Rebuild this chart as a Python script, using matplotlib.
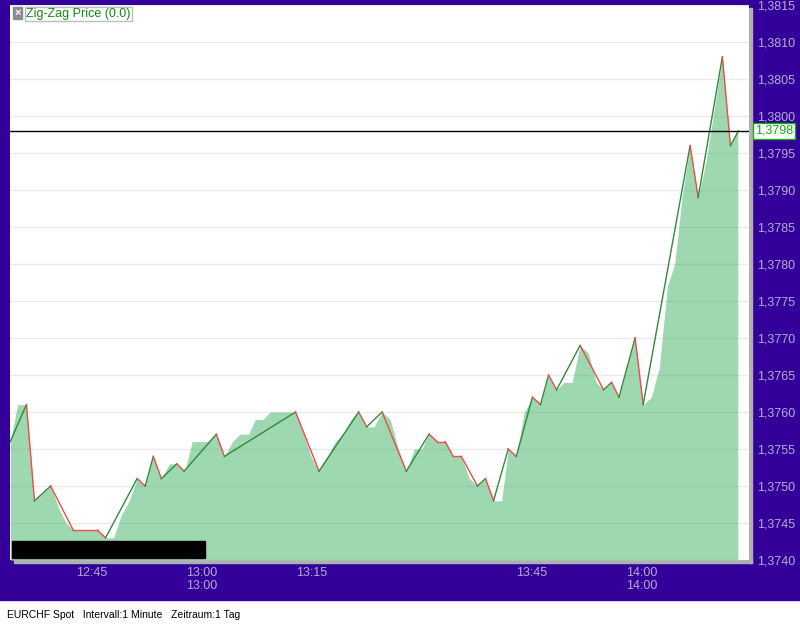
import matplotlib
matplotlib.use("Agg")
import matplotlib.pyplot as plt
from matplotlib.patches import Rectangle
from matplotlib.transforms import blended_transform_factory
import numpy as np

plt.rcParams['font.family'] = ['Liberation Sans', 'DejaVu Sans']

# price (area) - minutes after 12:00, EURCHF
fill_t = [33.9, 34.9, 36.1, 37.2, 38.3, 39.4, 40.5, 41.5, 42.6, 45.8, 46.9, 48.0, 49.0, 50.1,
          51.2, 52.3, 53.4, 54.5, 55.6, 56.7, 57.7, 58.7, 60.9, 62.0, 63.1, 64.2, 65.2, 66.4,
          67.3, 68.4, 69.3, 72.8, 73.9, 74.9, 76.0, 77.1, 78.2, 79.3, 80.4, 81.4, 82.4, 83.5,
          84.6, 85.7, 86.8, 87.9, 89.0, 90.0, 91.0, 92.1, 93.2, 94.3, 95.4, 96.5, 97.6, 98.7,
          99.8, 100.9, 101.8, 102.9, 104.0, 105.1, 106.2, 107.3, 108.4, 109.4, 110.5, 111.6,
          112.7, 113.8, 114.8, 115.9, 116.9, 118.0, 119.1, 120.2, 121.3, 122.4, 123.5, 124.5,
          125.5, 126.6, 127.7, 128.8, 129.9, 131.0, 132.1, 133.1]
fill_p = [1.3756, 1.3761, 1.3761, 1.3748, 1.3749, 1.3750, 1.3747, 1.3745, 1.3744, 1.3744,
          1.3743, 1.3743, 1.3746, 1.3748, 1.3751, 1.3750, 1.3754, 1.3751, 1.3753, 1.3753,
          1.3752, 1.3756, 1.3756, 1.3757, 1.3754, 1.3756, 1.3757, 1.3757, 1.3759, 1.3759,
          1.3760, 1.3760, 1.3757, 1.3754, 1.3752, 1.3754, 1.3756, 1.3757, 1.3759, 1.3760,
          1.3758, 1.3758, 1.3760, 1.3759, 1.3755, 1.3752, 1.3755, 1.3755, 1.3757, 1.3756,
          1.3756, 1.3754, 1.3754, 1.3751, 1.3750, 1.3751, 1.3748, 1.3748, 1.3755, 1.3754,
          1.3760, 1.3762, 1.3761, 1.3765, 1.3763, 1.3764, 1.3764, 1.3769, 1.3768, 1.3764,
          1.3763, 1.3764, 1.3762, 1.3766, 1.3770, 1.3761, 1.3762, 1.3766, 1.3777, 1.3780,
          1.3789, 1.3796, 1.3789, 1.3794, 1.3801, 1.3808, 1.3796, 1.3798]

# zig-zag (0.0) pivots
zz_t = [33.9, 36.1, 37.2, 39.4, 42.5, 45.8, 46.9, 51.2, 52.3, 53.4, 54.5, 56.6, 57.6, 62.0,
        63.1, 72.8, 76.0, 81.4, 82.5, 84.6, 87.9, 91.0, 92.1, 93.2, 94.3, 95.4, 97.6, 98.7,
        99.8, 101.8, 102.9, 105.1, 106.2, 107.3, 108.4, 111.6, 114.8, 115.9, 116.9, 119.1,
        120.2, 126.6, 127.7, 131.0, 132.1, 133.2]
zz_p = [1.3756, 1.3761, 1.3748, 1.3750, 1.3744, 1.3744, 1.3743, 1.3751, 1.3750, 1.3754,
        1.3751, 1.3753, 1.3752, 1.3757, 1.3754, 1.3760, 1.3752, 1.3760, 1.3758, 1.3760,
        1.3752, 1.3757, 1.3756, 1.3756, 1.3754, 1.3754, 1.3750, 1.3751, 1.3748, 1.3755,
        1.3754, 1.3762, 1.3761, 1.3765, 1.3763, 1.3769, 1.3763, 1.3764, 1.3762, 1.3770,
        1.3761, 1.3796, 1.3789, 1.3808, 1.3796, 1.3798]

last_price = 1.3798
tick_t = [45, 60, 75, 105, 120]
tick_labels = ["12:45", "13:00\n13:00", "13:15", "13:45", "14:00\n14:00"]

W, H = 800, 625
fig = plt.figure(figsize=(8, 6.25), dpi=100, facecolor='white')
purple = '#330099'
lab = '#b4acd4'
fig.patches.append(Rectangle((0, 25 / H), 1, 1, transform=fig.transFigure,
                             color=purple, zorder=-10))
# gray shadow of the plot panel
fig.patches.append(Rectangle((749 / W, 62 / H), 3 / W, 555 / H, transform=fig.transFigure,
                             color='#b0b0b0', zorder=-5))
fig.patches.append(Rectangle((14 / W, 62 / H), 738 / W, 3 / H, transform=fig.transFigure,
                             color='#b0b0b0', zorder=-5))

ax = fig.add_axes([10 / W, 65 / H, 739 / W, 555 / H])
ax.set_facecolor('white')
for s in ax.spines.values():
    s.set_visible(False)

ax.set_xlim(33.86, 134.63)
ax.set_ylim(1.3740, 1.3815)

ax.fill_between(fill_t, fill_p, 1.3740, color='#9ed8b0', lw=0, zorder=1)

yt = np.arange(1.3740, 1.38151, 0.0005)
for v in yt:
    ax.axhline(v, color='#808080', alpha=0.16, lw=1, zorder=2)

for i in range(len(zz_t) - 1):
    c = '#2f8a3c' if zz_p[i + 1] > zz_p[i] else '#f04a4a'
    ax.plot(zz_t[i:i + 2], zz_p[i:i + 2], color=c, lw=1, zorder=3)

ax.axhline(last_price, color='black', lw=1, zorder=4)

ax.yaxis.tick_right()
ax.set_yticks(yt)
ax.set_yticklabels([f"{v:.4f}".replace('.', ',') for v in yt])
ax.tick_params(axis='y', length=0, pad=6, labelsize=9, labelcolor=lab)
ax.set_xticks(tick_t)
ax.set_xticklabels(tick_labels, linespacing=1.15)
ax.tick_params(axis='x', length=0, pad=5, labelsize=9, labelcolor=lab)

tr = blended_transform_factory(ax.transAxes, ax.transData)
ax.text(1.0085, last_price, "1,3798", transform=tr, ha='left', va='center', fontsize=9,
        color='#10b010', bbox=dict(boxstyle='square,pad=0.15', fc='white', ec='#10b010', lw=1))

# legend
ax.text(0.006, 0.995, "\u00d7", transform=ax.transAxes, ha='left', va='top', fontsize=8,
        color='white', fontweight='bold',
        bbox=dict(boxstyle='square,pad=0.1', fc='#8c8c8c', ec='#8c8c8c'))
ax.text(0.0215, 0.995, "Zig-Zag Price (0.0)", transform=ax.transAxes, ha='left', va='top',
        fontsize=9, color='#138a13',
        bbox=dict(boxstyle='square,pad=0.1', fc='white', ec='#bdbdbd', lw=1))

# masked area
ax.add_patch(Rectangle((0.003, 0.003), 0.261, 0.032, transform=ax.transAxes,
                       color='black', zorder=6))

fig.text(7 / W, 1 - 615 / H, "EURCHF Spot   Intervall:1 Minute   Zeitraum:1 Tag",
         ha='left', va='center', fontsize=7.5, color='black')

fig.savefig("out.png", dpi=100, facecolor=fig.get_facecolor())
